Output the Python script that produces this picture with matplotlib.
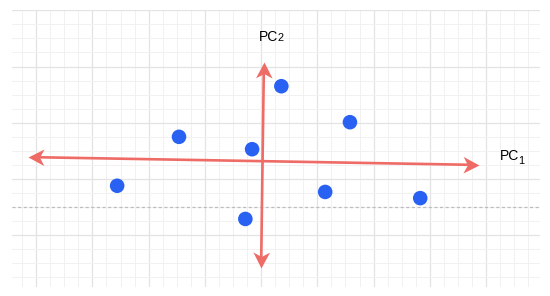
# PCA sketch: scatter of samples with the two principal axes drawn as arrows

import numpy as np
import matplotlib.pyplot as plt
from matplotlib.ticker import MultipleLocator
from matplotlib.markers import MarkerStyle
from matplotlib.path import Path
from matplotlib.transforms import Affine2D

# --- DATA (grid units, one major grid cell = 1) ---

pts_x = [-1.46, -0.16, 0.36, 1.58, -2.56, -0.28, 1.14, 2.83]
pts_y = [0.75, 0.53, 1.65, 1.01, -0.12, -0.71, -0.23, -0.34]

# principal axes, given as (tip, tip) of each double headed arrow
pc1_x = [-4.15, 3.88]
pc1_y = [0.39, 0.25]
pc2_x = [0.05, 0.00]
pc2_y = [2.08, -1.58]

dashed_y = -0.49

red = '#EE6B66'
blue = '#2962F2'

# --- FIGURE ---

fig = plt.figure(figsize=(5.5, 2.96), dpi=100)
ax = fig.add_axes([12/550, 9/296, 528/550, 277/296])
ax.set_xlim(-4.43, 4.96)
ax.set_ylim(-1.92, 3.005)

ax.xaxis.set_major_locator(MultipleLocator(1))
ax.yaxis.set_major_locator(MultipleLocator(1))
ax.xaxis.set_minor_locator(MultipleLocator(0.25))
ax.yaxis.set_minor_locator(MultipleLocator(0.25))
ax.grid(which='major', color='#E3E3E3', lw=0.9)
ax.grid(which='minor', color='#F1F1F1', lw=0.7)
ax.set_axisbelow(True)
ax.tick_params(which='both', length=0, labelbottom=False, labelleft=False)
for s in ax.spines.values():
	s.set_visible(False)

ax.axhline(dashed_y, color='#BDBDBD', lw=0.9, ls=(0, (2.5, 2)))

# notched arrow head pointing along +x, tip at the origin
head = Path([(0, 0), (-1, 0.52), (-0.72, 0), (-1, -0.52), (0, 0)],
	[Path.MOVETO, Path.LINETO, Path.LINETO, Path.LINETO, Path.CLOSEPOLY])

def degrees(v):
	return np.degrees(np.arctan2(v[1], v[0]))

def pc_arrow(xs, ys):
	ax.annotate('', xy=(xs[1], ys[1]), xytext=(xs[0], ys[0]),
		arrowprops=dict(arrowstyle='-', color=red, lw=1.9, shrinkA=7, shrinkB=7))
	p = ax.transData.transform(np.column_stack([xs, ys]))
	for i, j in [(0, 1), (1, 0)]:
		m = MarkerStyle(head, transform=Affine2D().rotate_deg(degrees(p[i] - p[j])))
		ax.plot(xs[i], ys[i], marker=m, ms=23, color=red, mew=0, zorder=4)

pc_arrow(pc1_x, pc1_y)
pc_arrow(pc2_x, pc2_y)

ax.scatter(pts_x, pts_y, s=110, color=blue, zorder=3, edgecolors='none')

# axis labels
font = ['Liberation Sans', 'DejaVu Sans']
ax.text(-0.04, 2.45, 'PC', fontsize=10, family=font, ha='left', va='baseline')
ax.text(0.285, 2.45, '2', fontsize=7.8, family=font, ha='left', va='baseline')
ax.text(4.25, 0.338, 'PC', fontsize=10, family=font, ha='left', va='baseline')
ax.text(4.58, 0.26, '1', fontsize=7.8, family=font, ha='left', va='baseline')

fig.savefig('out.png', dpi=100)
